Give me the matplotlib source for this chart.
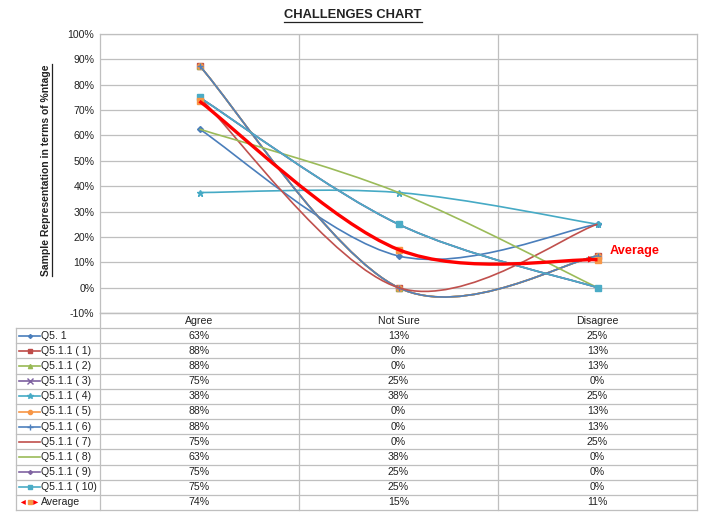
import matplotlib
matplotlib.use('Agg')
import matplotlib.pyplot as plt
from matplotlib.path import Path
from matplotlib.patches import PathPatch
from matplotlib.lines import Line2D

plt.rcParams['font.family'] = ['Liberation Sans', 'DejaVu Sans']

categories = ['Agree', 'Not Sure', 'Disagree']
series_names = ['Q5. 1', 'Q5.1.1 ( 1)', 'Q5.1.1 ( 2)', 'Q5.1.1 ( 3)', 'Q5.1.1 ( 4)',
                'Q5.1.1 ( 5)', 'Q5.1.1 ( 6)', 'Q5.1.1 ( 7)', 'Q5.1.1 ( 8)',
                'Q5.1.1 ( 9)', 'Q5.1.1 ( 10)', 'Average']
q51 = [62.5, 12.5, 25]
q511_1 = [87.5, 0, 12.5]
q511_2 = [87.5, 0, 12.5]
q511_3 = [75, 25, 0]
q511_4 = [37.5, 37.5, 25]
q511_5 = [87.5, 0, 12.5]
q511_6 = [87.5, 0, 12.5]
q511_7 = [75, 0, 25]
q511_8 = [62.5, 37.5, 0]
q511_9 = [75, 25, 0]
q511_10 = [75, 25, 0]
average = [73.5, 15, 11]
table_text = [
    ['63%', '13%', '25%'], ['88%', '0%', '13%'], ['88%', '0%', '13%'],
    ['75%', '25%', '0%'], ['38%', '38%', '25%'], ['88%', '0%', '13%'],
    ['88%', '0%', '13%'], ['75%', '0%', '25%'], ['63%', '38%', '0%'],
    ['75%', '25%', '0%'], ['75%', '25%', '0%'], ['74%', '15%', '11%'],
]
all_series = [q51, q511_1, q511_2, q511_3, q511_4, q511_5, q511_6, q511_7,
              q511_8, q511_9, q511_10, average]

colors = ['#4A7EBB', '#BE4B48', '#98B954', '#7D60A0', '#46AAC5', '#F79646',
          '#4F81BD', '#C0504D', '#9BBB59', '#8064A2', '#4BACC6', '#FF0000']
markers = ['D', 's', '^', 'x', '*', 'o', '+', None, None, 'D', 's', 's']
msizes = [3, 4, 4, 5, 5, 4, 5, 0, 0, 3, 4, 5]
lws = [1.2] * 11 + [2.4]

W, H = 711, 512
grid_c = '#BFBFBF'
text_c = '#222222'
fs = 7.6


def smooth_path(xs, ys):
    # excel style smoothed line: cardinal bezier segments
    pts = list(zip(xs, ys))
    verts = [pts[0]]
    codes = [Path.MOVETO]
    n = len(pts)
    for i in range(n - 1):
        p0 = pts[i - 1] if i > 0 else pts[i]
        p1 = pts[i]
        p2 = pts[i + 1]
        p3 = pts[i + 2] if i + 2 < n else pts[i + 1]
        c1 = (p1[0] + (p2[0] - p0[0]) / 6, p1[1] + (p2[1] - p0[1]) / 6)
        c2 = (p2[0] - (p3[0] - p1[0]) / 6, p2[1] - (p3[1] - p1[1]) / 6)
        verts += [c1, c2, p2]
        codes += [Path.CURVE4] * 3
    return Path(verts, codes), verts[-2]


fig = plt.figure(figsize=(W / 100, H / 100), dpi=100)

left, right, top, bottom = 100, 697, 34, 313
ax = fig.add_axes([left / W, 1 - bottom / H, (right - left) / W, (bottom - top) / H])
ax.set_xlim(0, 3)
ax.set_ylim(-10, 100)
ax.set_yticks(range(-10, 101, 10))
ax.set_yticklabels([f'{v}%' for v in range(-10, 101, 10)], fontsize=fs, color=text_c)
ax.set_xticks([])
ax.tick_params(axis='y', length=0, pad=4)
for v in range(-10, 101, 10):
    ax.axhline(v, color=grid_c, lw=0.9, zorder=0)
for v in [1, 2]:
    ax.axvline(v, color=grid_c, lw=0.9, zorder=0)
for s in ax.spines.values():
    s.set_color(grid_c)
    s.set_linewidth(0.9)

xs = [0.5, 1.5, 2.5]
for i, ys in enumerate(all_series):
    path, last_ctrl = smooth_path(xs, ys)
    ax.add_patch(PathPatch(path, fill=False, edgecolor=colors[i], lw=lws[i],
                           transform=ax.transData, zorder=3 + i))
    if i == 11:
        ax.plot(xs, ys, linestyle='none', marker='s', ms=4, color='#F79646', zorder=13)
        ax.annotate('', xy=(xs[-1], ys[-1]), xytext=last_ctrl,
                    arrowprops=dict(arrowstyle='-|>', color='red', lw=0,
                                    mutation_scale=12), zorder=20)
        ax.annotate('Average', xy=(xs[-1], ys[-1]), xytext=(9, 6),
                    textcoords='offset points', color='red', fontsize=9.2,
                    fontweight='bold', va='center', ha='left')
    elif markers[i]:
        ax.plot(xs, ys, linestyle='none', marker=markers[i], ms=msizes[i],
                color=colors[i], mec=colors[i], zorder=3 + i)

# title and y label
title = fig.text(353 / W, 1 - 15 / H, 'CHALLENGES CHART', ha='center', va='center',
                 fontsize=9.3, fontweight='bold', color=text_c)
ylab = fig.text(46 / W, 1 - 170 / H, 'Sample Representation in terms of %ntage',
                ha='center', va='center', rotation=90, fontsize=7.5,
                fontweight='bold', color=text_c)

# data table
tab = fig.add_axes([16 / W, 1 - 510 / H, (697 - 16) / W, (510 - 313) / H])
tab.set_xlim(-84 / 199, 3)
nrows = len(series_names) + 1
tab.set_ylim(nrows, 0)
tab.axis('off')
xl = -84 / 199
for r in range(nrows + 1):
    x0 = 0 if r == 0 else xl
    tab.plot([x0, 3], [r, r], color=grid_c, lw=0.9, clip_on=False)
for xv in [0, 1, 2, 3]:
    tab.plot([xv, xv], [0, nrows], color=grid_c, lw=0.9, clip_on=False)
tab.plot([xl, xl], [1, nrows], color=grid_c, lw=0.9, clip_on=False)
for j, c in enumerate(categories):
    tab.text(j + 0.5, 0.5, c, ha='center', va='center', fontsize=fs, color=text_c)
for i, name in enumerate(series_names):
    y = i + 1.5
    for j in range(3):
        tab.text(j + 0.5, y, table_text[i][j], ha='center', va='center',
                 fontsize=fs, color=text_c)
    tab.text(xl + 25 / 199, y, name, ha='left', va='center', fontsize=fs, color=text_c)
    lx = [xl + 3 / 199, xl + 24 / 199]
    if i == 11:
        tab.annotate('', xy=(lx[0] - 1 / 199, y), xytext=(lx[0] + 11 / 199, y),
                     arrowprops=dict(arrowstyle='-|>', color='red', lw=0, mutation_scale=9))
        tab.annotate('', xy=(lx[1] + 1 / 199, y), xytext=(lx[0] + 10 / 199, y),
                     arrowprops=dict(arrowstyle='-|>', color='red', lw=0, mutation_scale=9))
        tab.plot([(lx[0] + lx[1]) / 2], [y], marker='s', ms=3, color='#F79646')
    else:
        tab.add_line(Line2D(lx, [y, y], color=colors[i], lw=1.2))
        if markers[i]:
            tab.plot([(lx[0] + lx[1]) / 2], [y], marker=markers[i],
                     ms=max(msizes[i] - 1, 2), color=colors[i], mec=colors[i])

# underline title and y label
fig.canvas.draw()
inv = fig.transFigure.inverted()
bb = inv.transform_bbox(title.get_window_extent())
fig.add_artist(Line2D([bb.x0, bb.x1], [bb.y0 - 0.002, bb.y0 - 0.002],
                      color=text_c, lw=0.9, transform=fig.transFigure))
bb = inv.transform_bbox(ylab.get_window_extent())
fig.add_artist(Line2D([bb.x1 + 0.001, bb.x1 + 0.001], [bb.y0, bb.y1],
                      color=text_c, lw=0.9, transform=fig.transFigure))

fig.savefig('out.png', dpi=100)
